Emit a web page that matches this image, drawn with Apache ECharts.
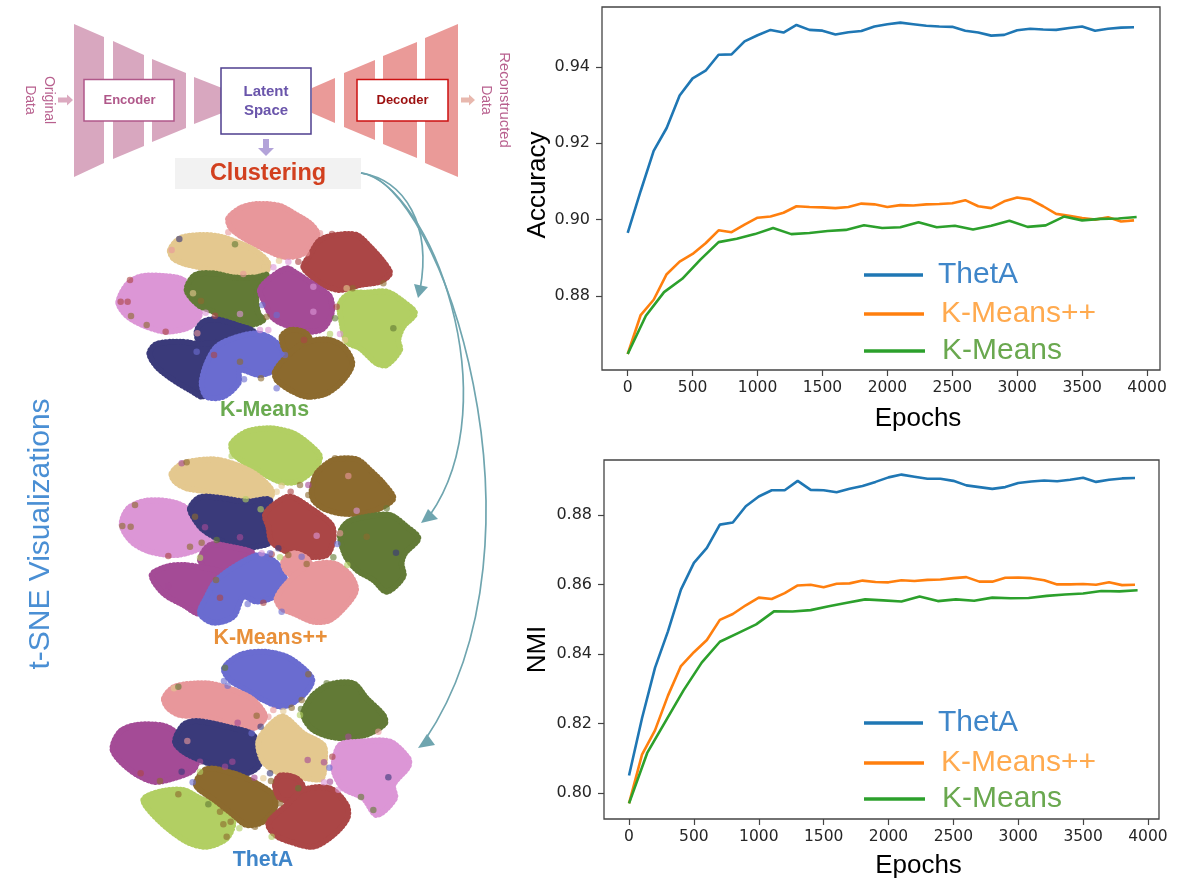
<!DOCTYPE html>
<html><head><meta charset="utf-8">
<style>html,body{margin:0;padding:0;background:#fff}#c{width:1196px;height:881px}</style>
<script src="https://cdn.jsdelivr.net/npm/echarts@6/dist/echarts.min.js"></script>
</head><body><div id="c"></div>
<script>
const xStep100 = [0,100,200,300,400,500,600,700,800,900,1000,1100,1200,1300,1400,1500,1600,1700,1800,1900,2000,2100,2200,2300,2400,2500,2600,2700,2800,2900,3000,3100,3200,3300,3400,3500,3600,3700,3800,3900];
const xStep140 = [0,140,280,420,560,700,840,980,1120,1260,1400,1540,1680,1820,1960,2100,2240,2380,2520,2660,2800,2940,3080,3220,3360,3500,3640,3780,3920];
const accThetA = [.8965,.9075,.918,.924,.9325,.937,.939,.9432,.9433,.9467,.9483,.9497,.949,.951,.9497,.9495,.9485,.9491,.9494,.9506,.9512,.9516,.9512,.9508,.9506,.9505,.9495,.949,.9482,.9484,.9496,.95,.9498,.9497,.9502,.9506,.9495,.95,.9503,.9504];
const accPlus = [.8648,.875,.879,.8857,.889,.891,.8938,.8972,.8967,.8987,.9005,.9008,.9018,.9035,.9033,.9032,.903,.9033,.9042,.904,.9033,.9038,.9037,.904,.9041,.9043,.9051,.9035,.903,.9048,.9058,.9053,.9035,.9015,.901,.9004,.9,.9006,.8995,.8998];
const accKM = [.8648,.8748,.881,.8845,.8895,.8941,.895,.8962,.8978,.8962,.8965,.897,.8973,.8985,.8978,.898,.8993,.898,.8984,.8974,.8984,.8997,.8981,.8985,.9008,.8998,.9002,.9003,.9007];
const nmiThetA = [.805,.8215,.836,.8465,.8585,.8662,.8705,.8772,.8778,.8825,.8853,.8871,.8871,.8898,.8872,.8871,.8865,.8875,.8883,.8895,.8908,.8916,.891,.8904,.8904,.8898,.8885,.888,.8875,.888,.8892,.8896,.8899,.8897,.8901,.8907,.8895,.8901,.8905,.8906];
const nmiPlus = [.797,.811,.818,.828,.8365,.8405,.844,.8498,.8515,.854,.8562,.8558,.8575,.8597,.8599,.8592,.8602,.8603,.8611,.8607,.8606,.8612,.861,.8613,.8614,.8618,.8621,.8608,.8608,.8619,.862,.8618,.8612,.86,.86,.8601,.8599,.8606,.8598,.8599];
const nmiKM = [.797,.8115,.8205,.8295,.8375,.8435,.846,.8485,.8523,.8522,.8526,.8537,.8547,.8557,.8554,.8551,.8565,.8552,.8557,.8553,.8562,.856,.8561,.8567,.8571,.8574,.8581,.858,.8583];
const xTicks = [0,500,1000,1500,2000,2500,3000,3500,4000];
const accTicks = [.88,.90,.92,.94];
const nmiTicks = [.80,.82,.84,.86,.88];
const seriesNames = ['ThetA','K-Means++','K-Means'];

// cluster colours of the t-SNE maps
const palette = {sal:'#e8979b',tan:'#e4c88f',red:'#ab4646',orc:'#dc96d6',grn:'#627a36',mag:'#a44b96',nav:'#3a3a7a',per:'#6a6cd0',bro:'#8c6a2e',lim:'#b2cf63'};

// t-SNE cluster outlines
const mapKMeans = [
 ['sal',[385,85,420,55,470,42,540,48,590,75,630,100,652,130,640,165,600,195,550,200,500,180,450,155,410,130,390,110]],
 ['tan',[210,180,240,145,300,135,360,140,420,160,470,185,505,220,495,250,440,265,380,255,310,235,250,220,220,205]],
 ['red',[610,230,630,195,660,150,710,135,770,135,810,170,850,215,870,250,840,275,780,285,720,300,670,285,630,255]],
 ['orc',[55,335,80,285,120,260,190,258,250,270,270,310,300,370,270,410,200,425,140,410,90,385,65,360]],
 ['grn',[260,300,285,255,340,250,400,262,470,262,500,255,470,310,475,370,490,390,450,405,400,395,340,365,295,345]],
 ['mag',[480,300,510,265,560,235,590,250,650,290,690,320,695,370,670,415,630,425,570,410,520,385,495,340]],
 ['nav',[290,425,310,395,350,388,410,405,460,425,400,460,350,475,300,460]],
 ['nav',[148,490,170,462,240,455,300,462,360,460,340,490,310,560,310,620,270,600,220,570,170,530]],
 ['per',[350,470,400,445,470,430,520,450,550,490,540,530,480,555,420,540,415,580,370,620,320,620,305,580,320,520]],
 ['bro',[545,440,570,420,610,425,628,445,600,475,560,485]],
 ['bro',[525,545,560,500,610,460,680,448,730,470,757,520,730,570,680,610,620,620,570,600,530,570]],
 ['lim',[720,340,750,310,800,308,860,305,910,335,945,370,910,410,895,450,900,480,860,525,830,520,780,475,740,455,725,400]]
];
const mapPlus = [
 ['lim',[395,70,440,35,510,25,580,40,630,75,660,110,640,150,590,185,540,185,480,155,430,125,400,100]],
 ['tan',[215,160,250,130,340,118,410,135,470,165,515,210,510,235,440,250,390,240,320,215,260,205,225,185]],
 ['bro',[635,210,650,160,700,120,770,118,810,150,850,190,880,235,840,265,790,280,720,280,670,265,640,240]],
 ['orc',[65,315,85,265,140,242,210,245,260,265,290,320,340,355,300,385,230,405,150,395,95,365]],
 ['nav',[270,265,300,232,370,235,440,245,510,240,490,300,510,365,470,380,420,385,360,360,310,330,285,300]],
 ['red',[495,285,520,255,570,230,640,270,695,315,700,360,680,405,620,410,560,395,515,365,505,320]],
 ['mag',[300,420,330,375,390,380,460,400,430,430,380,460,330,455]],
 ['mag',[155,465,200,440,250,435,320,445,370,460,330,510,300,580,250,555,190,520]],
 ['per',[350,480,420,430,480,405,530,430,555,480,530,525,470,545,430,530,400,590,340,608,300,580,320,530]],
 ['sal',[550,425,580,400,620,415,630,440,590,470,560,455]],
 ['sal',[530,535,570,480,620,440,700,430,750,465,768,510,740,555,690,600,640,605,580,580,545,565]],
 ['grn',[720,340,745,305,800,290,870,285,920,320,955,355,915,400,905,430,910,470,860,515,820,480,770,450,735,405]]
];
const mapThetA = [
 ['per',[372,70,420,30,490,20,560,35,610,70,637,105,610,150,550,185,490,165,430,130,390,105]],
 ['sal',[192,160,225,125,320,115,400,135,460,165,495,215,460,250,400,240,320,215,240,210,205,190]],
 ['grn',[610,200,640,150,690,118,760,115,800,160,850,210,855,235,810,265,750,280,690,275,640,255,615,225]],
 ['mag',[38,315,60,260,110,240,190,242,230,265,290,340,280,375,220,400,160,410,90,375]],
 ['nav',[225,290,250,240,290,228,380,245,460,270,465,320,478,360,440,385,380,375,300,345,250,320]],
 ['tan',[475,290,510,240,550,215,610,265,670,300,675,340,665,400,620,400,540,385,490,350]],
 ['orc',[700,360,720,300,780,290,870,290,925,340,925,365,880,420,885,460,830,510,790,460,730,430,705,390]],
 ['lim',[130,465,180,440,250,435,300,460,370,490,400,530,380,580,320,605,260,590,180,530]],
 ['bro',[288,420,320,372,400,385,460,410,520,450,525,490,490,530,440,540,400,510,350,470]],
 ['red',[525,420,540,392,590,400,610,430,580,465,540,460]],
 ['red',[505,535,560,480,610,435,690,430,740,480,742,520,700,570,640,605,570,590,525,570]]
];
// outlying points of each map
const strayKMeans = [[385,127,'sal'],[660,130,'sal'],[238,147,'nav'],[215,180,'sal'],[537,212,'tan'],[495,232,'tan'],[430,252,'sal'],[405,163,'grn'],[696,132,'red'],[595,215,'red'],[620,230,'red'],[620,190,'sal'],[850,280,'bro'],[565,215,'orc'],[520,232,'orc'],[62,335,'red'],[90,270,'red'],[197,425,'red'],[345,377,'red'],[292,430,'sal'],[93,378,'bro'],[140,405,'bro'],[317,368,'orc'],[279,310,'tan'],[303,333,'bro'],[487,345,'per'],[530,375,'per'],[500,380,'bro'],[432,568,'per'],[530,595,'per'],[483,565,'bro'],[758,295,'bro'],[710,350,'red'],[690,432,'lim'],[735,450,'tan'],[705,385,'grn'],[480,420,'orc'],[505,420,'orc'],[720,432,'orc'],[880,415,'grn'],[640,365,'orc'],[83,335,'red'],[555,495,'per'],[420,515,'bro'],[342,495,'red'],[290,485,'per'],[420,372,'orc'],[640,290,'orc'],[740,295,'tan'],[612,450,'red']];
const strayPlus = [[395,108,'lim'],[655,128,'lim'],[705,115,'bro'],[245,130,'mag'],[260,127,'bro'],[545,197,'tan'],[530,215,'tan'],[600,195,'bro'],[572,215,'red'],[625,225,'bro'],[625,195,'mag'],[860,265,'grn'],[92,320,'bro'],[67,318,'bro'],[105,255,'bro'],[205,408,'red'],[300,413,'lim'],[350,360,'grn'],[285,290,'bro'],[315,322,'mag'],[482,268,'lim'],[437,238,'lim'],[420,352,'mag'],[650,347,'orc'],[720,340,'sal'],[700,412,'grn'],[712,372,'per'],[742,435,'lim'],[515,403,'red'],[540,412,'lim'],[485,400,'orc'],[535,385,'nav'],[565,405,'bro'],[605,410,'per'],[620,432,'bro'],[490,548,'red'],[545,575,'per'],[443,552,'per'],[348,480,'bro'],[360,533,'red'],[205,498,'mag'],[800,350,'bro'],[888,398,'nav'],[770,272,'orc'],[745,168,'sal'],[270,380,'bro'],[305,368,'bro'],[510,400,'per']];
const strayThetA = [[375,68,'grn'],[372,108,'per'],[383,122,'per'],[625,88,'bro'],[680,115,'grn'],[222,130,'tan'],[235,125,'grn'],[520,195,'sal'],[505,215,'sal'],[550,198,'tan'],[575,188,'bro'],[605,165,'bro'],[603,192,'grn'],[600,210,'lim'],[835,260,'sal'],[745,275,'mag'],[413,233,'mag'],[455,265,'per'],[482,245,'nav'],[470,212,'bro'],[262,288,'sal'],[300,350,'mag'],[245,380,'nav'],[278,412,'per'],[122,385,'red'],[180,408,'bro'],[375,365,'mag'],[397,350,'mag'],[510,385,'nav'],[490,400,'tan'],[513,408,'bro'],[463,398,'mag'],[623,345,'mag'],[672,352,'mag'],[688,368,'per'],[697,335,'red'],[672,412,'orc'],[690,410,'mag'],[715,434,'orc'],[783,456,'grn'],[820,495,'grn'],[865,397,'nav'],[595,430,'grn'],[540,475,'bro'],[515,575,'lim'],[465,545,'bro'],[418,550,'lim'],[370,538,'bro'],[392,530,'bro'],[325,478,'grn'],[380,575,'bro'],[360,500,'bro'],[235,448,'bro'],[300,380,'lim']];

const panels = [
 {map:mapKMeans,stray:strayKMeans,ox:100,oy:190},
 {map:mapPlus,stray:strayPlus,ox:100,oy:420},
 {map:mapThetA,stray:strayThetA,ox:100,oy:645}
];
const blobs = [], dots = [];
panels.forEach(p=>{
  p.map.forEach(([k,a])=>{
    const pts=[];for(let i=0;i<a.length;i+=2)pts.push([p.ox+a[i]/3,p.oy+a[i+1]/3]);
    blobs.push({k,pts});
  });
  p.stray.forEach(([x,y,k])=>dots.push({value:[p.ox+x/3,p.oy+y/3],itemStyle:{color:palette[k]}}));
});

const lineColors = ['#1f77b4','#ff7f0e','#2ca02c'];
const legendText = ['#3f86c9','#ffaa4f','#6aa84f'];
const pair=(xs,ys)=>xs.map((x,i)=>[x,ys[i]]);
const line=(i,g,xs,ys)=>({name:seriesNames[i],type:'line',xAxisIndex:g,yAxisIndex:g,data:pair(xs,ys),showSymbol:false,symbol:'none',
  lineStyle:{color:lineColors[i],width:2.6},itemStyle:{color:lineColors[i]},z:5,silent:true});
const xAxis=(g,min,max,gap)=>({type:'value',gridIndex:g,min,max,splitLine:{show:false},axisLine:{show:false,onZero:false},
  axisTick:{show:true,length:6,customValues:xTicks,lineStyle:{color:'#444',width:1.2}},
  axisLabel:{customValues:xTicks,formatter:v=>String(v),color:'#262626',fontFamily:'DejaVu Sans',fontSize:15.5,margin:10,showMinLabel:true,showMaxLabel:true},
  name:'Epochs',nameLocation:'middle',nameGap:gap,nameTextStyle:{color:'#000',fontFamily:'Liberation Sans',fontSize:26,padding:[0,0,0,74]}});
const yAxis=(g,min,max,ticks,title,gap,pad)=>({type:'value',gridIndex:g,min,max,splitLine:{show:false},axisLine:{show:false,onZero:false},
  axisTick:{show:true,length:6,customValues:ticks,lineStyle:{color:'#444',width:1.2}},
  axisLabel:{customValues:ticks,formatter:v=>v.toFixed(2),color:'#262626',fontFamily:'DejaVu Sans',fontSize:16,margin:12},
  name:title,nameLocation:'middle',nameGap:gap,nameRotate:90,nameTextStyle:{color:'#000',fontFamily:'Liberation Sans',fontSize:26,padding:pad}});
const legendItem=(i,left,top,w)=>({data:[seriesNames[i]],left,top,orient:'horizontal',icon:'rect',itemWidth:w,itemHeight:3.5,selectedMode:false,
  textStyle:{color:legendText[i],fontFamily:'Liberation Sans',fontSize:30,padding:[0,0,0,i===0?10:12]}});

const tr=(pts,fill)=>({type:'polygon',shape:{points:pts},style:{fill},silent:true});
const box=(x,y,w,h,stroke)=>({type:'rect',shape:{x,y,width:w,height:h},style:{fill:'#fff',stroke,lineWidth:1.5},z:3,silent:true});
const txt=(x,y,t,font,fill,rot)=>({type:'text',x,y,rotation:rot||0,originX:0,originY:0,style:{text:t,font,fill,align:'center',verticalAlign:'middle'},z:4,silent:true});
const arrowR=(x0,x1,y,c)=>({type:'polygon',shape:{points:[[x0,y-2.5],[x1-6,y-2.5],[x1-6,y-5.5],[x1,y],[x1-6,y+5.5],[x1-6,y+2.5],[x0,y+2.5]]},style:{fill:c},silent:true});
const curve=(x1,y1,cpx1,cpy1,cpx2,cpy2,x2,y2)=>({type:'bezierCurve',shape:{x1,y1,cpx1,cpy1,cpx2,cpy2,x2,y2},style:{fill:'none',stroke:'#6fa5af',lineWidth:1.7},z:6,silent:true});
const head=(pts)=>({type:'polygon',shape:{points:pts},style:{fill:'#6fa5af'},z:6,silent:true});
const enc='#d8a7bf',dec='#ea9a98';
const graphics=[
 tr([[74,24],[104,37],[104,163],[74,177]],enc),tr([[113,41],[144,55],[144,146],[113,159]],enc),
 tr([[152,59],[186,73],[186,128],[152,142]],enc),tr([[194,77],[222,88],[222,113],[194,124]],enc),
 tr([[312,88],[335,78],[335,123],[312,113]],dec),tr([[344,73],[375,60],[375,140],[344,127]],dec),
 tr([[383,56],[417,42],[417,158],[383,144]],dec),tr([[425,38],[458,24],[458,177],[425,163]],dec),
 box(84,79.5,90,41.5,'#b0588a'),box(357,79.5,91,41.5,'#cc1111'),box(221,68,90,66,'#4f3f8f'),
 txt(129.5,100.5,'Encoder','bold 13px "Liberation Sans"','#b0588a'),
 txt(402.5,100.5,'Decoder','bold 13px "Liberation Sans"','#9c1010'),
 txt(266,92,'Latent','bold 15px "Liberation Sans"','#6a55ab'),
 txt(266,110.5,'Space','bold 15px "Liberation Sans"','#6a55ab'),
 arrowR(58,73,100,'#dcaac0'),arrowR(461,475,100,'#e8b8ae'),
 {type:'polygon',shape:{points:[[263,139],[269,139],[269,148],[274,148],[266,156],[258,148],[263,148]]},style:{fill:'#b3a3d9'},silent:true},
 {type:'rect',shape:{x:175,y:158,width:186,height:31},style:{fill:'#f2f2f2'},silent:true},
 txt(268,174,'Clustering','bold 23.5px "Liberation Sans"','#d2401f'),
 txt(49,100,'Original','14px "Liberation Sans"','#b8608e',-Math.PI/2),
 txt(30,100,'Data','14px "Liberation Sans"','#b8608e',-Math.PI/2),
 txt(504,100,'Reconstructed','14.8px "Liberation Sans"','#b8608e',-Math.PI/2),
 txt(486,100,'Data','14px "Liberation Sans"','#b8608e',-Math.PI/2),
 txt(41,534,'t-SNE Visualizations','30px "Liberation Sans"','#4a8fd4',Math.PI/2),
 txt(264.5,410,'K-Means','bold 21.4px "Liberation Sans"','#6aaa50'),
 txt(270.5,638,'K-Means++','bold 21.4px "Liberation Sans"','#e8903a'),
 txt(263,860,'ThetA','bold 21.4px "Liberation Sans"','#3f85c9'),
 curve(361,173,405,180,432,225,420,290),
 curve(361,173,430,185,510,400,430,515),
 curve(361,173,440,180,560,540,425,740),
 head([[418,298],[414,284],[428,287]]),
 head([[421,523],[428,509],[438,519]]),
 head([[418,748],[427,734],[435,745]])
];

const chart=echarts.init(document.getElementById('c'),null,{renderer:'canvas'});
chart.setOption({
 animation:false,
 tooltip:{show:false},
 graphic:graphics,
 grid:[
  {left:602,top:7,width:558,height:363,show:true,borderColor:'#444',borderWidth:1.3,containLabel:false,outerBoundsMode:'none'},
  {left:604,top:460,width:555,height:359,show:true,borderColor:'#444',borderWidth:1.3,containLabel:false,outerBoundsMode:'none'},
  {left:0,top:0,width:1196,height:881,show:false,outerBoundsMode:'none'}
 ],
 xAxis:[xAxis(0,-198,4100,36),xAxis(1,-193,4085,34),{type:'value',gridIndex:2,min:0,max:1196,show:false}],
 yAxis:[yAxis(0,.8606,.9557,accTicks,'Accuracy',51,[0,0,0,7]),yAxis(1,.7925,.8958,nmiTicks,'NMI',53,[0,20,0,0]),{type:'value',gridIndex:2,min:0,max:881,inverse:true,show:false}],
 legend:[
  legendItem(0,859,255,59),legendItem(1,859,294,60),legendItem(2,859,331,61),
  legendItem(0,859,703,59),legendItem(1,859,743,60),legendItem(2,859,779,61)
 ],
 series:[
  {type:'custom',coordinateSystem:'cartesian2d',xAxisIndex:2,yAxisIndex:2,silent:true,clip:false,z:1,
   data:blobs.map(b=>b.pts[0]),
   renderItem:(params,api)=>{
     const b=blobs[params.dataIndex];
     return {type:'polygon',shape:{points:b.pts.map(p=>api.coord(p)),smooth:0.3},
       style:{fill:palette[b.k],stroke:palette[b.k],lineWidth:6,lineDash:[0.1,3.5],lineCap:'round',lineJoin:'round'}};
   }},
  {type:'scatter',xAxisIndex:2,yAxisIndex:2,silent:true,data:dots,symbolSize:6.5,z:2,itemStyle:{opacity:.62},clip:false},
  line(0,0,xStep100,accThetA),line(1,0,xStep100,accPlus),line(2,0,xStep140,accKM),
  line(0,1,xStep100,nmiThetA),line(1,1,xStep100,nmiPlus),line(2,1,xStep140,nmiKM)
 ]
});
</script></body></html>
